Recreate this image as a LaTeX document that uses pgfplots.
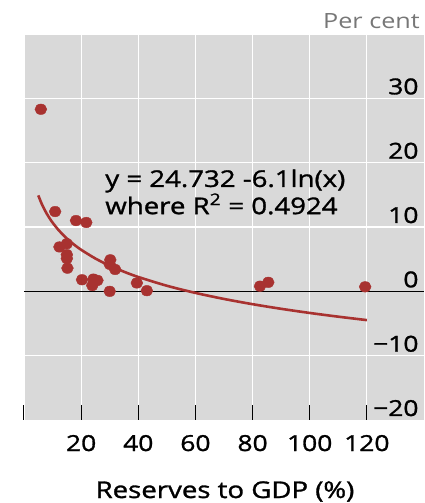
\documentclass[border=0pt]{standalone}
\usepackage{fontspec}
\setmainfont{Open Sans}[FakeStretch=1.2, FakeBold=1.3]
\newfontfamily\plainfont{Open Sans}[FakeStretch=1.2]
\usepackage{pgfplots}
\pgfplotsset{compat=1.18}
\definecolor{dotred}{RGB}{168,50,48}
\definecolor{labgray}{RGB}{119,119,119}
\definecolor{bgA}{RGB}{217,217,217}
\begin{document}
\begin{tikzpicture}
\path (-24pt,-83pt) rectangle (401pt,420pt);
\fill[bgA] (0pt,0pt) rectangle (400pt,200pt);
\fill[bgA] (0pt,199pt) rectangle (400pt,386pt);
\begin{axis}[
  name=ax,
  scale only axis,
  width=400pt, height=386pt,
  xmin=0, xmax=140, ymin=-20, ymax=40,
  axis line style={draw=white, line width=0.8pt},
  xtick={0,20,40,60,80,100,120},
  xticklabels={,20,40,60,80,100,120},
  ytick={-20,-10,0,10,20,30},
  yticklabels={−20,−10,0,10,20,30},
  xtick pos=bottom,
  yticklabel pos=right,
  tick align=inside,
  major tick length=15pt,
  xtick style={draw=black, line width=1pt},
  ytick style={draw=none},
  tick label style={font=\fontsize{22}{24}\selectfont},
  xticklabel style={anchor=base, yshift=-31pt},
  yticklabel style={anchor=base east, xshift=-2pt, yshift=4pt},
  clip=false,
]
\addplot[draw=white, line width=1.2pt, forget plot] coordinates {(20,-17.6) (20,40)};
\addplot[draw=white, line width=1.2pt, forget plot] coordinates {(40,-17.6) (40,40)};
\addplot[draw=white, line width=1.2pt, forget plot] coordinates {(60,-17.6) (60,40)};
\addplot[draw=white, line width=1.2pt, forget plot] coordinates {(80,-17.6) (80,40)};
\addplot[draw=white, line width=1.2pt, forget plot] coordinates {(100,-17.6) (100,40)};
\addplot[draw=white, line width=1.2pt, forget plot] coordinates {(120,-17.6) (120,40)};
\addplot[draw=white, line width=1.2pt, forget plot] coordinates {(0,-10) (140,-10)};
\addplot[draw=white, line width=1.2pt, forget plot] coordinates {(0,10) (140,10)};
\addplot[draw=white, line width=1.2pt, forget plot] coordinates {(0,20) (140,20)};
\addplot[draw=white, line width=1.2pt, forget plot] coordinates {(0,30) (140,30)};
\addplot[draw=black, line width=1.6pt, forget plot] coordinates {(0,0) (140,0)};
\addplot[color=dotred, line width=2.6pt, smooth, no markers] coordinates {
(5,14.914) (6,13.802) (7,12.862) (8,12.048) (9,11.329) (10,10.686) (12,9.574)
(14,8.634) (16,7.819) (18,7.101) (20,6.458) (25,5.097) (30,3.985) (35,3.044)
(40,2.230) (50,0.869) (60,-0.243) (70,-1.184) (80,-1.998) (90,-2.717)
(100,-3.360) (110,-3.941) (120,-4.472)};
\addplot[only marks, mark=*, mark size=5.3pt, color=dotred, mark options={fill=dotred, draw=dotred, xscale=1.12}] coordinates {
(5.9,28.3) (10.9,12.4) (18.2,11.0) (21.8,10.7) (12.4,6.9) (15.0,7.4)
(15.0,5.7) (15.0,5.1) (15.2,3.6) (30.2,4.9) (30.0,4.2) (31.9,3.4)
(20.3,1.8) (24.3,1.9) (25.7,1.7) (23.9,0.9) (30.0,0.0) (39.5,1.3)
(43.0,0.1) (82.6,0.8) (85.5,1.4) (119.4,0.7)};
\node[anchor=base west, align=left, inner sep=0pt, font=\fontsize{23}{23}\selectfont]
  at (axis cs:28.4,12.0) {y = 24.732 -6.1ln(x)\\where R\textsuperscript{2} = 0.4924};
\end{axis}
\node[anchor=base east, inner sep=0pt, text=labgray, font=\plainfont\fontsize{21}{23}\selectfont] at (396pt,391.7pt) {Per cent};
\node[anchor=base, inner sep=0pt, font=\fontsize{23}{25}\selectfont] at (201pt,-78pt) {Reserves to GDP (\%)};
\end{tikzpicture}
\end{document}
